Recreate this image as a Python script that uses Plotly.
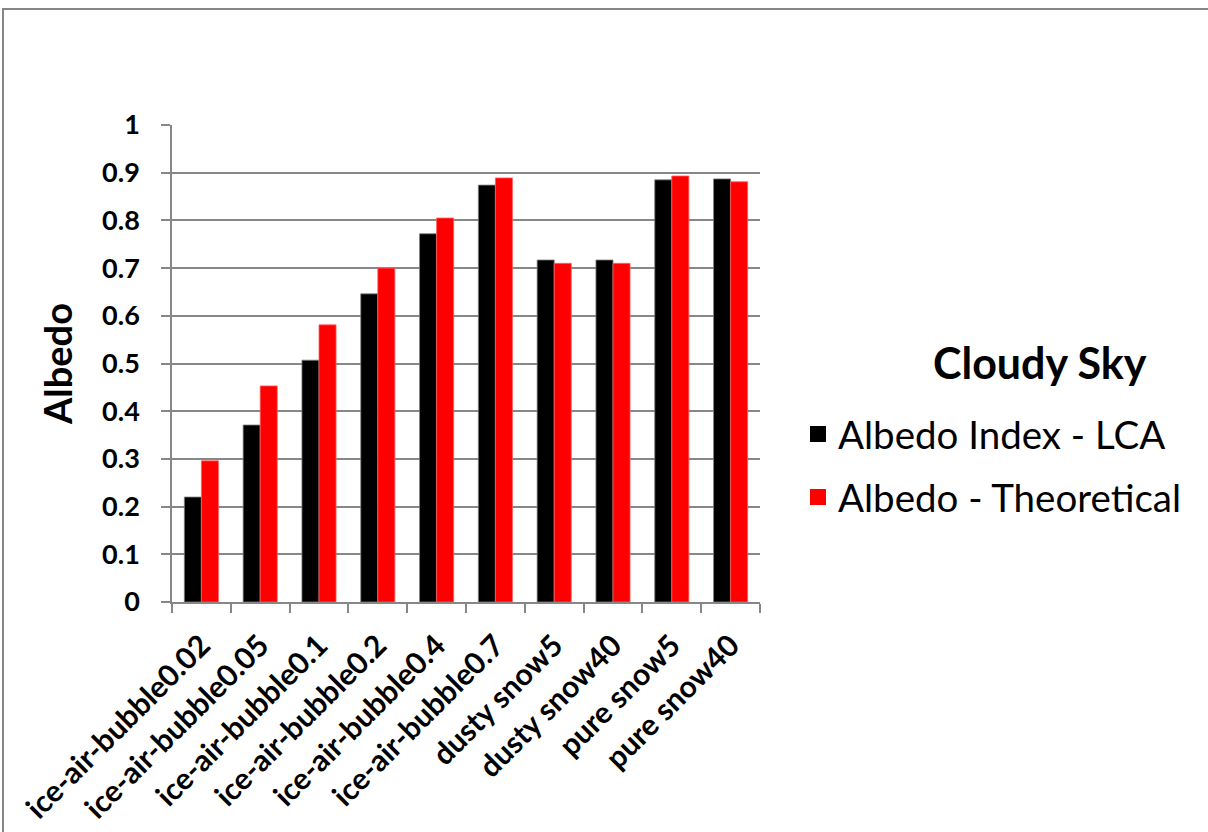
import plotly.graph_objects as go

categories = ["ice-air-bubble0.02", "ice-air-bubble0.05", "ice-air-bubble0.1",
              "ice-air-bubble0.2", "ice-air-bubble0.4", "ice-air-bubble0.7",
              "dusty snow5", "dusty snow40", "pure snow5", "pure snow40"]
albedo_lca = [0.220, 0.371, 0.507, 0.646, 0.772, 0.874, 0.717, 0.717, 0.885, 0.887]
albedo_theory = [0.296, 0.453, 0.581, 0.700, 0.805, 0.889, 0.710, 0.710, 0.893, 0.881]
y_ticks = [0, 0.1, 0.2, 0.3, 0.4, 0.5, 0.6, 0.7, 0.8, 0.9, 1]
y_labels = ["0", "0.1", "0.2", "0.3", "0.4", "0.5", "0.6", "0.7", "0.8", "0.9", "1"]
series_names = ["Albedo Index - LCA", "Albedo - Theoretical"]
series_colors = ["#000000", "#ff0000"]

FONT = "Lato"
GRID = "#878787"

fig = go.Figure()
fig.add_trace(go.Bar(x=categories, y=albedo_lca, name=series_names[0], showlegend=False,
                     marker=dict(color=series_colors[0], line=dict(color="#7f7f7f", width=0.8))))
fig.add_trace(go.Bar(x=categories, y=albedo_theory, name=series_names[1], showlegend=False,
                     marker=dict(color=series_colors[1], line=dict(color="#ff6060", width=0.8))))
# legend entries with larger square swatches
for i, (nm, col) in enumerate(zip(series_names, series_colors)):
    fig.add_trace(go.Scatter(x=[None], y=[None], mode="markers", name=nm,
                             legendgroup=f"g{i}",
                             marker=dict(symbol="square", size=24, color=col)))

L, R, T, B = 172, 760, 125, 602
W, H = 1208, 832
pw, ph = R - L, B - T

def px(x):
    return (x - L) / pw

def py(y):
    return (B - y) / ph

fig.update_layout(
    width=W, height=H,
    margin=dict(l=L, r=W - R, t=T, b=H - B, autoexpand=False),
    paper_bgcolor="white", plot_bgcolor="white",
    barmode="group", bargap=0.42, bargroupgap=0,
    font=dict(family=FONT, color="black"),
    showlegend=True,
    legend=dict(
        x=px(798), y=py(466), xanchor="left", yanchor="middle",
        font=dict(size=38.5, family=FONT),
        tracegroupgap=10, itemsizing="trace",
        bgcolor="rgba(0,0,0,0)",
    ),
    xaxis=dict(
        tickangle=-45, tickfont=dict(size=30, family=FONT, weight="bold"),
        ticks="outside", tickson="boundaries", ticklen=9, tickcolor=GRID, tickwidth=1.5,
        ticklabelstandoff=12,
        showline=True, linecolor=GRID, linewidth=1.5, showgrid=False,
    ),
    yaxis=dict(
        range=[0, 1], tickvals=y_ticks, ticktext=y_labels,
        tickfont=dict(size=27, family=FONT, weight="bold"),
        ticks="outside", ticklen=9, tickcolor=GRID, tickwidth=1.5,
        ticklabelstandoff=16,
        showline=True, linecolor=GRID, linewidth=1.5,
        showgrid=True, gridcolor=GRID, gridwidth=1.5,
        title=dict(text="<b>Albedo</b>", font=dict(size=38, family=FONT), standoff=18),
        zeroline=False,
    ),
    annotations=[dict(text="<b>Cloudy Sky</b>", xref="paper", yref="paper",
                      x=px(1040), y=py(362), xanchor="center", yanchor="middle",
                      showarrow=False, font=dict(size=43, family=FONT))],
    shapes=[dict(type="rect", xref="paper", yref="paper",
                 x0=px(3), x1=px(1212), y0=py(9), y1=py(840),
                 line=dict(color="#868686", width=2), fillcolor="rgba(0,0,0,0)")],
)

fig.write_html("out.html")
